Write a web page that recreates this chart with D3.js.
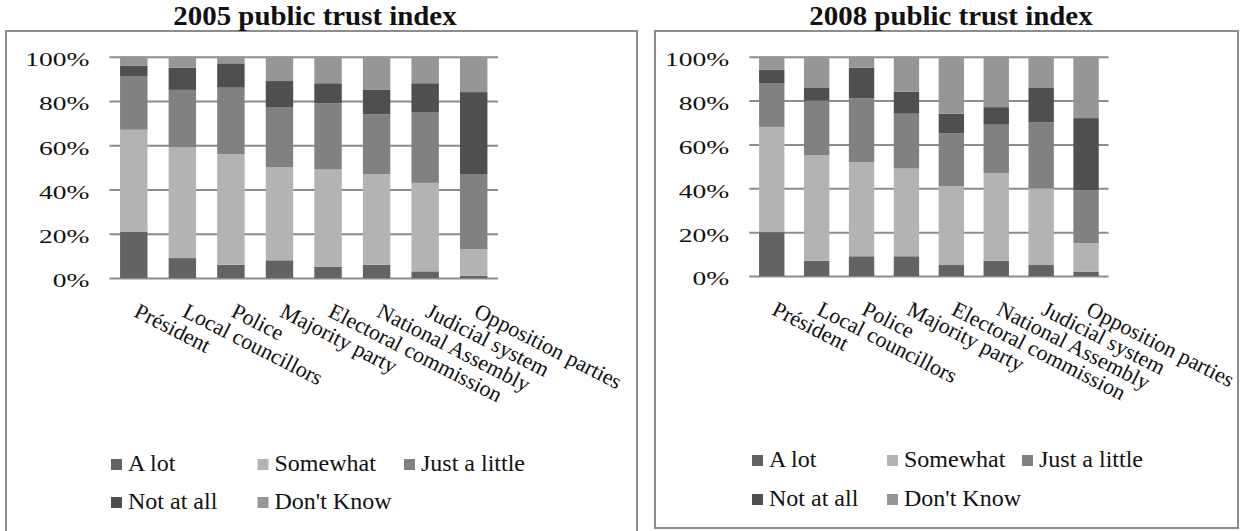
<!DOCTYPE html>
<html>
<head>
<meta charset="utf-8">
<script src="https://cdn.jsdelivr.net/npm/d3@7"></script>
<style>
  html, body { margin: 0; padding: 0; background: #fff; }
  svg { display: block; }
</style>
</head>
<body>
<svg id="chart" width="1244" height="531"></svg>
<script>
// Institutions surveyed
const categories = ["Président", "Local councillors", "Police", "Majority party",
  "Electoral commission", "National Assembly", "Judicial system", "Opposition parties"];

// Response levels, bottom to top of each stack
const seriesNames = ["A lot", "Somewhat", "Just a little", "Not at all", "Don't Know"];
const seriesColors = ["#636363", "#b3b3b3", "#818181", "#4f4f4f", "#969696"];

// Y axis ticks (percent)
const yTicks = [0, 20, 40, 60, 80, 100];
const yTickLabels = ["0%", "20%", "40%", "60%", "80%", "100%"];

// 2005 survey shares (%)
const aLot2005        = [21,  9,  6,  8,  5,  6,  3,  1];
const somewhat2005    = [46, 50, 50, 42, 44, 41, 40, 12];
const justALittle2005 = [24, 26, 30, 27, 30, 27, 32, 34];
const notAtAll2005    = [ 5, 10, 11, 12,  9, 11, 13, 37];
const dontKnow2005    = [ 4,  5,  3, 11, 12, 15, 12, 16];

// 2008 survey shares (%)
const aLot2008        = [20,  7,  9,  9,  5,  7,  5,  2];
const somewhat2008    = [48, 48, 43, 40, 36, 40, 35, 13];
const justALittle2008 = [20, 25, 29, 25, 24, 22, 30, 24];
const notAtAll2008    = [ 6,  6, 14, 10,  9,  8, 16, 33];
const dontKnow2008    = [ 6, 14,  5, 16, 26, 23, 14, 28];

const SERIF = "'Liberation Serif', 'Times New Roman', serif";

function buildRows(a, b, c, d, e) {
  return categories.map((cat, i) => ({
    category: cat,
    [seriesNames[0]]: a[i], [seriesNames[1]]: b[i], [seriesNames[2]]: c[i],
    [seriesNames[3]]: d[i], [seriesNames[4]]: e[i]
  }));
}

const panels = [
  {
    title: "2005 public trust index",
    rows: buildRows(aLot2005, somewhat2005, justALittle2005, notAtAll2005, dontKnow2005),
    frame: { x: 6, y: 31, w: 631, h: 520 },
    plot: { left: 109.5, right: 498, top: 56.7, bottom: 278 },
    titleX: 315,
    legend: { x: 111, y: 459, colStep: 146.5, rowStep: 38 }
  },
  {
    title: "2008 public trust index",
    rows: buildRows(aLot2008, somewhat2008, justALittle2008, notAtAll2008, dontKnow2008),
    frame: { x: 655, y: 31, w: 583, h: 497 },
    plot: { left: 749.3, right: 1108.5, top: 56.7, bottom: 276 },
    titleX: 951,
    legend: { x: 752, y: 455, colStep: 135, rowStep: 39 }
  }
];

const svg = d3.select("#chart");
const stack = d3.stack().keys(seriesNames);
const color = d3.scaleOrdinal().domain(seriesNames).range(seriesColors);

panels.forEach(p => {
  const g = svg.append("g");

  // Panel frame
  g.append("rect")
    .attr("x", p.frame.x).attr("y", p.frame.y)
    .attr("width", p.frame.w).attr("height", p.frame.h)
    .attr("fill", "none").attr("stroke", "#8c8c8c").attr("stroke-width", 2);

  // Title
  g.append("text")
    .attr("x", p.titleX).attr("y", 25)
    .attr("text-anchor", "middle")
    .attr("font-family", SERIF).attr("fill", "#111")
    .attr("font-size", 27).attr("font-weight", "bold")
    .attr("transform", `translate(${p.titleX},0) scale(1.07,1) translate(${-p.titleX},0)`)
    .text(p.title);

  const x = d3.scaleBand()
    .domain(categories)
    .range([p.plot.left, p.plot.right])
    .paddingInner(0.435).paddingOuter(0.2175);

  const y = d3.scaleLinear().domain([0, 100]).range([p.plot.bottom, p.plot.top]);

  // Gridlines
  const grid = g.append("g")
    .attr("transform", `translate(${p.plot.left},0)`)
    .call(d3.axisLeft(y).tickValues(yTicks)
      .tickSize(-(p.plot.right - p.plot.left)).tickFormat(""));
  grid.select(".domain").remove();
  grid.selectAll(".tick line").attr("stroke", "#8c8c8c").attr("stroke-width", 2);

  // Tick labels
  const labelX = p.plot.left - 20;
  g.append("g").selectAll("text")
    .data(yTicks)
    .join("text")
    .attr("x", labelX)
    .attr("y", d => y(d) + 9.5)
    .attr("text-anchor", "end")
    .attr("font-family", SERIF).attr("fill", "#111")
    .attr("font-size", 19)
    .attr("transform", `translate(${labelX},0) scale(1.45,1) translate(${-labelX},0)`)
    .text((d, i) => yTickLabels[i]);

  // Stacked bars
  const layers = stack(p.rows);
  g.append("g").selectAll("g")
    .data(layers)
    .join("g")
    .attr("fill", d => color(d.key))
    .selectAll("rect")
    .data(d => d)
    .join("rect")
    .attr("x", d => x(d.data.category))
    .attr("width", x.bandwidth())
    .attr("y", d => y(d[1]))
    .attr("height", d => y(d[0]) - y(d[1]));

  // Category labels, slanted
  g.append("g").selectAll("text")
    .data(categories)
    .join("text")
    .attr("transform", d => `translate(${x(d) + x.bandwidth() / 2 - 1},${p.plot.bottom + 38}) rotate(27)`)
    .attr("font-family", SERIF).attr("fill", "#111")
    .attr("font-size", 22)
    .text(d => d);

  // Legend
  const leg = g.append("g").selectAll("g")
    .data(seriesNames)
    .join("g")
    .attr("transform", (d, i) =>
      `translate(${p.legend.x + (i % 3) * p.legend.colStep},${p.legend.y + Math.floor(i / 3) * p.legend.rowStep})`);
  leg.append("rect")
    .attr("width", 11).attr("height", 11)
    .attr("fill", d => color(d));
  leg.append("text")
    .attr("x", 17).attr("y", 12)
    .attr("font-family", SERIF).attr("fill", "#111")
    .attr("font-size", 24)
    .text(d => d);
});
</script>
</body>
</html>
